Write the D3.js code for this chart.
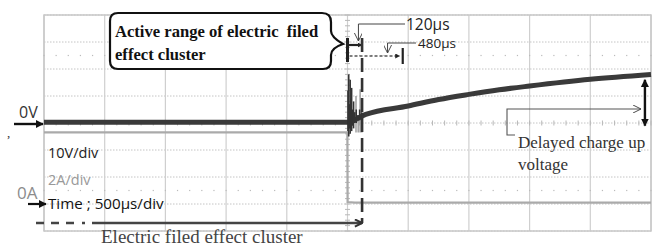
<!DOCTYPE html>
<html><head><meta charset="utf-8">
<script src="https://cdn.jsdelivr.net/npm/d3@7"></script>
<style>body{margin:0;background:#fff}svg{display:block}</style>
</head><body>
<svg id="c" width="656" height="246"></svg>
<script>
// ---- data ----
const timeTicks = [-2500,-2000,-1500,-1000,-500,0,500,1000,1500,2000,2500]; // µs, 500 µs/div
const voltTicks = [-40,-30,-20,-10,0,10,20,30,40];                        // V, 10 V/div
const vTime = [-2500,-1500,-500,0,150,500,750,1000,1250,1500,2000,2500];
const vVolt = [0.3,0.3,0.3,0.3,3.2,6.3,8.7,10.6,12.3,13.7,16.2,18.0];
const spikeT  = [4,10,16,22,28,34,42,50,60,72,86,100,116,132];
const spikeHi = [12,18,7,16,9,13,5,8,4,5,3,5,4,3.5];
const spikeLo = [-3,-5,-2,-4,-2,-3,-1,-2,0,0,1,1,2,2.5];
const iTime = [-2500,-1,1,60,2500];
const iAmp  = [5.3,5.3,0.15,0.1,0.1];
const iSpikeT  = [70,88,104,118];
const iSpikeHi = [8.0,6.5,8.5,6.0];
const markT = {fast:120, slow:455, delayed:2450};

// ---- scales ----
const x  = d3.scaleLinear().domain([-2500,2500]).range([44,651]);
const yV = d3.scaleLinear().domain([-40,40]).range([231,15]);
const yI = d3.scaleLinear().domain([-2,14]).range([231,15]);
const svg = d3.select('#c');

// grid
svg.append('g').selectAll('line').data(voltTicks).join('line')
  .attr('x1',x(-2500)).attr('x2',x(2500)).attr('y1',d=>yV(d)).attr('y2',d=>yV(d))
  .attr('stroke','#c4c4c4').attr('stroke-width',1).attr('stroke-dasharray','1.5,1.5');
svg.append('g').selectAll('line').data(timeTicks).join('line')
  .attr('y1',yV(40)).attr('y2',yV(-40)).attr('x1',d=>x(d)).attr('x2',d=>x(d))
  .attr('stroke','#cfcfcf').attr('stroke-width',1.2);
svg.append('rect').attr('x',x(-2500)).attr('y',yV(40)).attr('width',x(2500)-x(-2500)).attr('height',yV(-40)-yV(40))
  .attr('fill','none').attr('stroke','#c8c8c8').attr('stroke-width',1.5);
// minor dots rows
const minorT = d3.range(-2500,2501,100);
[25,-25].forEach(v=>{
  svg.append('g').selectAll('rect').data(minorT).join('rect')
    .attr('x',d=>x(d)-0.6).attr('y',yV(v)-0.6).attr('width',1.2).attr('height',1.2).attr('fill','#bbb');
});
// center axis ticks
svg.append('g').selectAll('line').data(d3.range(-40,40.1,2)).join('line')
  .attr('x1',x(0)-2.5).attr('x2',x(0)+2.5).attr('y1',d=>yV(d)).attr('y2',d=>yV(d)).attr('stroke','#b8b8b8');
svg.append('g').selectAll('line').data(minorT).join('line')
  .attr('x1',d=>x(d)).attr('x2',d=>x(d)).attr('y1',yV(0)-2.5).attr('y2',yV(0)+2.5).attr('stroke','#b8b8b8');

// current trace
const iLine = d3.line().x((d,i)=>x(iTime[i])).y((d,i)=>yI(iAmp[i]));
svg.append('path').attr('d',iLine(iTime)).attr('fill','none').attr('stroke','#aaaaaa').attr('stroke-width',2.2);
svg.append('g').selectAll('line').data(iSpikeT).join('line')
  .attr('x1',d=>x(d)).attr('x2',d=>x(d)).attr('y1',yI(5.3)).attr('y2',(d,i)=>yI(iSpikeHi[i]))
  .attr('stroke','#999').attr('stroke-width',1.4);

// voltage trace
const vLine = d3.line().x((d,i)=>x(vTime[i])).y((d,i)=>yV(vVolt[i])).curve(d3.curveMonotoneX);
svg.append('path').attr('d',vLine(vTime)).attr('fill','none').attr('stroke','#3a3a3a').attr('stroke-width',5);
svg.append('g').selectAll('line').data(spikeT).join('line')
  .attr('x1',d=>x(d)).attr('x2',d=>x(d)).attr('y1',(d,i)=>yV(spikeLo[i])).attr('y2',(d,i)=>yV(spikeHi[i]))
  .attr('stroke','#333').attr('stroke-width',1.6);

// defs
const defs = svg.append('defs');
defs.append('marker').attr('id','fh').attr('viewBox','0 0 10 10').attr('refX',9).attr('refY',5)
  .attr('markerWidth',5).attr('markerHeight',5).attr('orient','auto-start-reverse').attr('markerUnits','userSpaceOnUse')
  .append('path').attr('d','M0,0L10,5L0,10Z').attr('fill','#222');
defs.append('marker').attr('id','fh2').attr('viewBox','0 0 10 10').attr('refX',9).attr('refY',5)
  .attr('markerWidth',8).attr('markerHeight',8).attr('orient','auto-start-reverse').attr('markerUnits','userSpaceOnUse')
  .append('path').attr('d','M0,0L10,5L0,10Z').attr('fill','#111');
defs.append('marker').attr('id','oh').attr('viewBox','0 0 10 10').attr('refX',10).attr('refY',5)
  .attr('markerWidth',8).attr('markerHeight',8).attr('orient','auto').attr('markerUnits','userSpaceOnUse')
  .append('path').attr('d','M0,0L10,5L0,10').attr('fill','none').attr('stroke','#444').attr('stroke-width',1.2);
defs.append('marker').attr('id','ch').attr('viewBox','0 0 10 10').attr('refX',9).attr('refY',5)
  .attr('markerWidth',9).attr('markerHeight',9).attr('orient','auto').attr('markerUnits','userSpaceOnUse')
  .append('path').attr('d','M1,1L9,5L1,9').attr('fill','none').attr('stroke','#333').attr('stroke-width',2.2);

const ann = svg.append('g');
// bracket 120 µs
ann.append('line').attr('x1',x(0)).attr('x2',x(0)).attr('y1',38).attr('y2',62).attr('stroke','#222').attr('stroke-width',3);
ann.append('line').attr('x1',x(0)).attr('x2',x(markT.fast)).attr('y1',45).attr('y2',45).attr('stroke','#222').attr('stroke-width',2.2).attr('marker-end','url(#fh)');
// long dashed line at 120 µs
ann.append('line').attr('x1',x(markT.fast)).attr('x2',x(markT.fast)).attr('y1',38).attr('y2',223)
  .attr('stroke','#333').attr('stroke-width',2.6).attr('stroke-dasharray','14,6');
// 480 µs dotted arrow
ann.append('line').attr('x1',x(0)+2).attr('x2',x(markT.slow)-3).attr('y1',56).attr('y2',56)
  .attr('stroke','#555').attr('stroke-width',1.3).attr('stroke-dasharray','3,2').attr('marker-end','url(#fh)');
ann.append('line').attr('x1',x(markT.slow)).attr('x2',x(markT.slow)).attr('y1',48).attr('y2',64).attr('stroke','#222').attr('stroke-width',2.2);
// leaders
ann.append('path').attr('d',`M405,24H${x(90)}V41`).attr('fill','none').attr('stroke','#444').attr('stroke-width',1).attr('marker-end','url(#oh)');
ann.append('path').attr('d',`M416,43H${x(330)}V53`).attr('fill','none').attr('stroke','#444').attr('stroke-width',1).attr('marker-end','url(#oh)');
ann.append('text').attr('x',406).attr('y',30).attr('font-family','Open Sans').attr('font-size',15.5).attr('fill','#222').text('120µs');
ann.append('text').attr('x',418).attr('y',48).attr('font-family','Open Sans').attr('font-size',13.5).attr('fill','#222').text('480µs');

// callout
ann.append('path').attr('d','M118,13H322Q331,13 331,22V31Q331,37 343,44Q331,48 331,55V61Q331,69 323,69H118Q110,69 110,61V21Q110,13 118,13Z')
  .attr('fill','#fff').attr('stroke','#111').attr('stroke-width',2.2);
ann.append('text').attr('x',115).attr('y',37).attr('font-family','Liberation Serif').attr('font-weight','bold').attr('font-size',16.6).attr('fill','#111').text('Active range of electric\u00a0 filed');
ann.append('text').attr('x',115).attr('y',60).attr('font-family','Liberation Serif').attr('font-weight','bold').attr('font-size',16.6).attr('fill','#111').text('effect cluster');

// delayed charge up
ann.append('path').attr('d',`M515,135H507V109H641`).attr('fill','none').attr('stroke','#555').attr('stroke-width',1.1).attr('marker-end','url(#oh)');
ann.append('line').attr('x1',x(markT.delayed)).attr('x2',x(markT.delayed)).attr('y1',yV(16)).attr('y2',yV(-1))
  .attr('stroke','#111').attr('stroke-width',2.4).attr('marker-start','url(#fh2)').attr('marker-end','url(#fh2)');
ann.append('text').attr('x',518).attr('y',148).attr('font-family','Liberation Serif').attr('font-size',17).attr('fill','#333').text('Delayed charge up');
ann.append('text').attr('x',518).attr('y',170).attr('font-family','Liberation Serif').attr('font-size',17).attr('fill','#333').text('voltage');

// left labels
ann.append('text').attr('x',19).attr('y',118).attr('font-family','Open Sans').attr('font-size',16).attr('fill','#333').text('0V');
ann.append('line').attr('x1',14).attr('x2',43).attr('y1',124).attr('y2',124).attr('stroke','#111').attr('stroke-width',2.4).attr('marker-end','url(#fh2)');
ann.append('text').attr('x',7).attr('y',137).attr('font-family','Liberation Serif').attr('font-size',13).attr('fill','#333').text(',');
ann.append('text').attr('x',17).attr('y',199).attr('font-family','Open Sans').attr('font-size',17).attr('fill','#8c8c8c').text('0A');
ann.append('line').attr('x1',28).attr('x2',46).attr('y1',204).attr('y2',204).attr('stroke','#111').attr('stroke-width',2.2).attr('marker-end','url(#fh2)');
ann.append('text').attr('x',48).attr('y',158).attr('font-family','Open Sans').attr('font-size',14.5).attr('fill','#222').text('10V/div');
ann.append('text').attr('x',48).attr('y',185).attr('font-family','Open Sans').attr('font-size',14.5).attr('fill','#999').text('2A/div');
ann.append('text').attr('x',48).attr('y',209).attr('font-family','Open Sans').attr('font-size',15.2).attr('fill','#111').text('Time ; 500µs/div');

// bottom arrow
ann.append('path').attr('d','M36,223H44M51,223H59M66,223H74M82,223H85').attr('stroke','#444').attr('stroke-width',2.6);
ann.append('line').attr('x1',92).attr('x2',x(markT.fast)).attr('y1',223).attr('y2',223).attr('stroke','#444').attr('stroke-width',2.6).attr('marker-end','url(#ch)');
ann.append('text').attr('x',101).attr('y',243).attr('font-family','Liberation Serif').attr('font-size',19).attr('fill','#444').text('Electric filed effect cluster');
</script>
</body></html>
